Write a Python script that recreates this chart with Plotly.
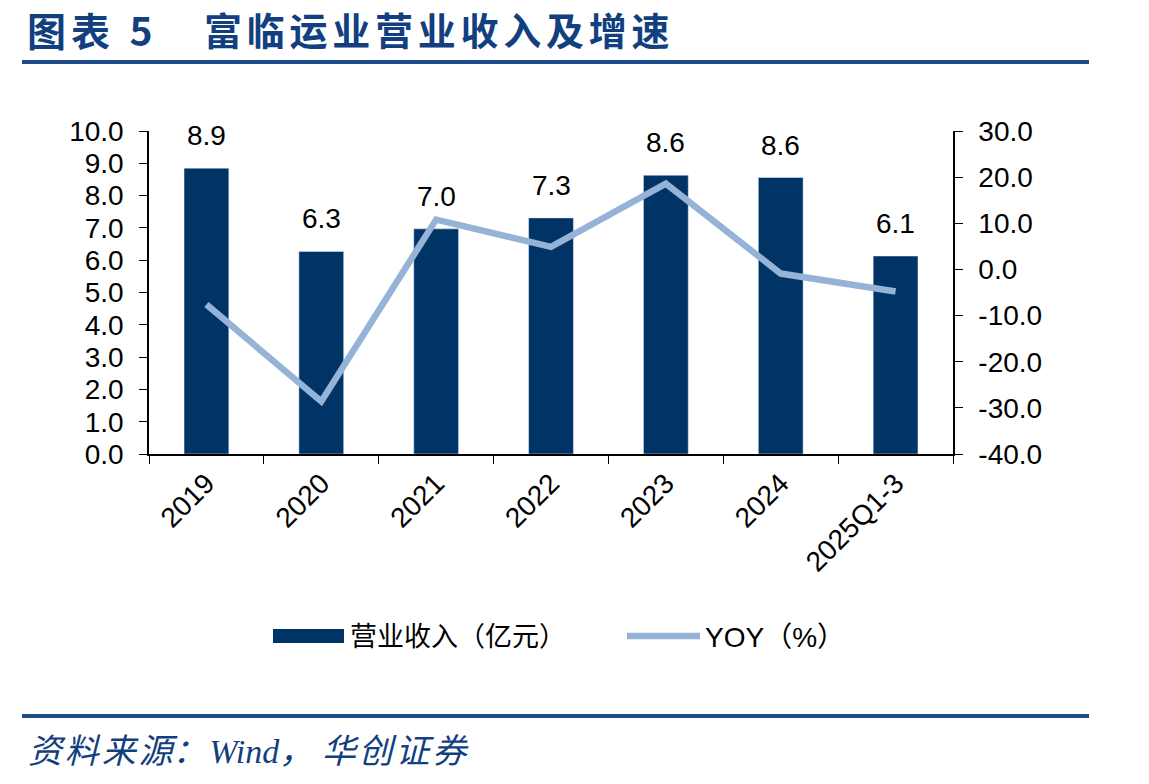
import plotly.graph_objects as go

categories = ["2019", "2020", "2021", "2022", "2023", "2024", "2025Q1-3"]
revenue = [8.85, 6.27, 6.97, 7.31, 8.63, 8.56, 6.13]
revenue_labels = ["8.9", "6.3", "7.0", "7.3", "8.6", "8.6", "6.1"]
yoy = [-7.6, -28.6, 10.8, 4.9, 18.6, -0.9, -4.8]
left_ticks = [0, 1, 2, 3, 4, 5, 6, 7, 8, 9, 10]
right_ticks = [-40, -30, -20, -10, 0, 10, 20, 30]

W, H = 1149, 784
L, R, T, B = 149, 953, 131, 454
BAR = "#003366"
LINE = "#95B3D7"
TXT_BLUE = "#123F80"
FONT = "Liberation Sans, Arial, Noto Sans CJK SC"

def px(x):
    return (x - L) / (R - L)

def py(y):
    return (B - y) / (B - T)

fig = go.Figure()
fig.add_trace(go.Bar(x=categories, y=revenue, marker_color=BAR, width=0.39,
                     name="营业收入（亿元）", showlegend=False))
fig.add_trace(go.Scatter(x=categories, y=yoy, mode="lines", yaxis="y2",
                         line=dict(color=LINE, width=6.5), name="YOY（%）",
                         showlegend=False))

ann = []
for i, (v, t) in enumerate(zip(revenue, revenue_labels)):
    ann.append(dict(x=i, y=v, xref="x", yref="y", text=t, showarrow=False,
                    yanchor="bottom", yshift=15,
                    font=dict(size=28, color="black", family=FONT)))

hs = "\u200a"
hs2 = hs + hs
ann.append(dict(xref="paper", yref="paper", x=px(25), y=py(29), xanchor="left",
                yanchor="middle", showarrow=False,
                text="<b>图" + hs2 + "表\u20025</b>",
                font=dict(size=39, color=TXT_BLUE, family="Noto Sans CJK SC")))
ann.append(dict(xref="paper", yref="paper", x=px(202), y=py(29), xanchor="left",
                yanchor="middle", showarrow=False,
                text="<b>" + hs2.join("富临运业营业收入及增速") + "</b>",
                font=dict(size=38, color=TXT_BLUE, family="Noto Sans CJK SC")))
src = hs.join("资料来源") + "：" + hs + "Wind，" + " " + hs.join("华创证券")
ann.append(dict(xref="paper", yref="paper", x=px(26), y=py(751), xanchor="left",
                yanchor="middle", showarrow=False,
                text="<i>" + src + "</i>",
                font=dict(size=34, color=TXT_BLUE,
                          family="Liberation Serif, Noto Sans CJK SC")))
ann.append(dict(xref="paper", yref="paper", x=px(348), y=py(637), xanchor="left",
                yanchor="middle", showarrow=False, text="营业收入（亿元）",
                font=dict(size=27, color="black", family=FONT)))
ann.append(dict(xref="paper", yref="paper", x=px(703), y=py(637), xanchor="left",
                yanchor="middle", showarrow=False, text="YOY（%）",
                font=dict(size=28, color="black", family=FONT)))

shapes = [
    dict(type="line", xref="paper", yref="paper", x0=px(22), x1=px(1089),
         y0=py(62), y1=py(62), line=dict(color="#1D4C8C", width=4)),
    dict(type="line", xref="paper", yref="paper", x0=px(22), x1=px(1089),
         y0=py(716), y1=py(716), line=dict(color="#1D4C8C", width=4)),
    dict(type="rect", xref="paper", yref="paper", x0=px(273), x1=px(344),
         y0=py(629), y1=py(643), fillcolor=BAR, line=dict(width=0)),
    dict(type="line", xref="paper", yref="paper", x0=px(627), x1=px(700),
         y0=py(636), y1=py(636), line=dict(color=LINE, width=6.5)),
]

tickfont = dict(size=28, color="black", family=FONT)
fig.update_layout(
    width=W, height=H,
    margin=dict(l=L, r=W - R, t=T, b=H - B, pad=0),
    plot_bgcolor="white", paper_bgcolor="white",
    showlegend=False,
    annotations=ann, shapes=shapes,
    xaxis=dict(type="category", range=[-0.5, len(categories) - 0.5],
               showline=True, linecolor="black", linewidth=1.5,
               ticks="outside", tickson="boundaries", ticklen=8, tickcolor="black",
               tickangle=-45, tickfont=tickfont, showgrid=False),
    yaxis=dict(range=[0, 10], tickvals=left_ticks,
               ticktext=[f"{v:.1f}" for v in left_ticks], showline=True,
               linecolor="black", linewidth=1.5, ticks="outside", ticklen=8,
               tickcolor="black", tickfont=tickfont, showgrid=False, zeroline=False,
               ticklabelstandoff=10),
    yaxis2=dict(range=[-40, 30], tickvals=right_ticks,
                ticktext=[f"{v:.1f}" for v in right_ticks], overlaying="y",
                side="right", showline=True, linecolor="black", linewidth=1.5,
                ticks="outside", ticklen=8, tickcolor="black", tickfont=tickfont,
                showgrid=False, zeroline=False, ticklabelstandoff=10),
)

fig.write_html("out.html")
